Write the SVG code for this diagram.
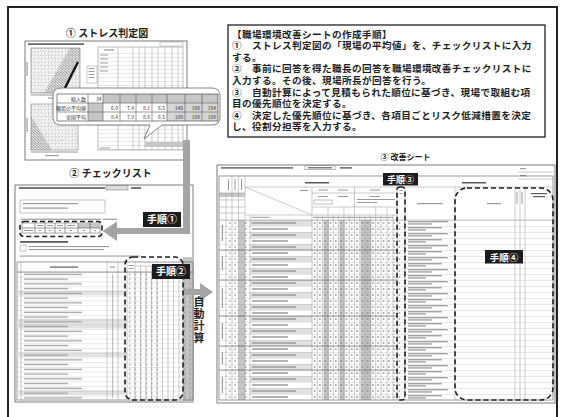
<svg xmlns="http://www.w3.org/2000/svg" width="561" height="417" viewBox="0 0 561 417">
<defs>
<style>
.ttl{font-family:"Noto Sans CJK JP","Noto Sans",sans-serif;font-weight:700;fill:#1e1e1e}
.body{font-family:"Noto Sans CJK JP","Noto Sans",sans-serif;font-weight:700;font-size:9.6px;letter-spacing:0.4px;fill:#1e1e1e}
.tiny{font-family:"Noto Sans CJK JP","Noto Sans",sans-serif;font-size:5px;fill:#333}
.stepT{font-family:"Noto Sans CJK JP","Noto Sans",sans-serif;font-weight:700;fill:#fff}
.sheet{fill:#fff;stroke:#5a5a5a;stroke-width:0.8}
.ln{stroke:#8c8c8c;stroke-width:0.45;fill:none}
.lnd{stroke:#555;stroke-width:0.6;fill:none}
.bar{fill:#9a9a9a}
.dbar{fill:#5a5a5a}
.gc{fill:#c6c6c6}
.lg{fill:#e2e2e2}
.dash{fill:none;stroke:#1e1e1e;stroke-width:1.6;stroke-dasharray:5 3}
.arw{fill:#a4a4a4}
.sbox{fill:#1c1c1c}
</style>
<pattern id="gridS" x="31" y="48" width="3.4" height="3.4" patternUnits="userSpaceOnUse"><path d="M0,0H3.4M0,0V3.4" stroke="#8a8a8a" stroke-width="0.35" fill="none"/></pattern>
<pattern id="diagS" width="2.6" height="10" patternUnits="userSpaceOnUse" patternTransform="rotate(30)"><path d="M0,0V10" stroke="#6a6a6a" stroke-width="0.4"/></pattern>
<pattern id="diagD" width="1.3" height="10" patternUnits="userSpaceOnUse" patternTransform="rotate(30)"><path d="M0,0V10" stroke="#2a2a2a" stroke-width="0.6"/></pattern>
<pattern id="rowS" x="0" y="53" width="200" height="4" patternUnits="userSpaceOnUse"><path d="M0,0H200" stroke="#8c8c8c" stroke-width="0.4"/></pattern>
<pattern id="rowC" x="0" y="272" width="200" height="4.75" patternUnits="userSpaceOnUse"><path d="M0,0H200" stroke="#8c8c8c" stroke-width="0.4"/></pattern>
<pattern id="txtC" x="23" y="272" width="200" height="9.5" patternUnits="userSpaceOnUse"><rect x="1" y="1.7" width="58" height="1.3" fill="#a0a0a0"/><rect x="1" y="6.45" width="44" height="1.3" fill="#a0a0a0"/></pattern>
<pattern id="numC" x="127" y="272" width="5.5" height="4.75" patternUnits="userSpaceOnUse"><rect x="2.2" y="1.5" width="1" height="1.8" fill="#777"/></pattern>
<pattern id="rowK" x="0" y="220" width="400" height="6" patternUnits="userSpaceOnUse"><path d="M0,0H400" stroke="#8c8c8c" stroke-width="0.4"/></pattern>
<pattern id="zebK" x="0" y="220" width="400" height="12" patternUnits="userSpaceOnUse"><rect x="0" y="0" width="400" height="6" fill="#e0e0e0"/></pattern>
<pattern id="txtK" x="251" y="220" width="200" height="12" patternUnits="userSpaceOnUse"><rect x="1" y="2.3" width="44" height="1.4" fill="#949494"/><rect x="1" y="8.3" width="36" height="1.4" fill="#949494"/></pattern>
<pattern id="numK" x="312" y="220" width="5.3" height="6" patternUnits="userSpaceOnUse"><rect x="2.1" y="2" width="1" height="2" fill="#777"/></pattern>
<pattern id="txtR" x="407" y="220" width="200" height="12" patternUnits="userSpaceOnUse"><rect x="1" y="1.2" width="40" height="1.1" fill="#8a8a8a"/><rect x="1" y="3.4" width="24" height="1.1" fill="#8a8a8a"/><rect x="1" y="7.2" width="34" height="1.1" fill="#8a8a8a"/><rect x="1" y="9.4" width="18" height="1.1" fill="#8a8a8a"/></pattern>
</defs>

<rect x="0" y="0" width="561" height="417" fill="#fff"/>
<rect id="frame" x="8" y="7" width="549" height="420" fill="none" stroke="#222" stroke-width="2"/>

<g id="stress-chart">
<text class="ttl" x="107" y="36.5" font-size="10" text-anchor="middle">① ストレス判定図</text>
<rect class="sheet" x="25" y="41" width="162" height="119"/>
<rect class="dbar" x="28" y="43.3" width="56" height="1.6"/>
<rect x="31" y="48" width="49" height="45" fill="url(#diagS)"/>
<polygon points="44,93 70,48 80,48 80,60 62,93" fill="url(#diagD)"/>
<rect x="31" y="48" width="49" height="45" fill="url(#gridS)" stroke="#666" stroke-width="0.5"/>
<line x1="65" y1="88" x2="78" y2="62" stroke="#111" stroke-width="2.4"/>
<rect class="bar" x="31" y="94.5" width="49" height="1"/>
<rect class="bar" x="48" y="97.5" width="14" height="1.2"/>
<rect class="bar" x="26.5" y="62" width="1.2" height="14"/>
<rect x="31" y="104" width="47" height="46" fill="url(#diagS)"/>
<polygon points="31,116 31,150 52,150" fill="url(#diagD)"/>
<rect x="31" y="104" width="47" height="46" fill="url(#gridS)" stroke="#666" stroke-width="0.5"/>
<rect class="bar" x="31" y="151.5" width="47" height="1"/>
<rect class="bar" x="45" y="155" width="14" height="1.2"/>
<rect class="bar" x="26.5" y="118" width="1.2" height="14"/>
<rect x="87" y="66" width="10" height="17" fill="#fff" stroke="#777" stroke-width="0.4"/>
<rect class="bar" x="88.5" y="68" width="6" height="1"/>
<rect class="bar" x="88.5" y="71" width="6" height="1"/>
<rect class="bar" x="88.5" y="74" width="6" height="1"/>
<rect class="bar" x="88.5" y="77" width="6" height="1"/>
<rect x="160" y="42" width="23" height="4" fill="#fff" stroke="#777" stroke-width="0.4"/>
<rect x="98" y="47" width="85" height="103" fill="#fff" stroke="#777" stroke-width="0.5"/>
<rect x="98" y="53" width="85" height="97" fill="url(#rowS)"/>
<rect class="bar" x="104" y="49.3" width="10" height="1.2"/>
<path class="ln" d="M118,47V150M133,47V150M139,47V150M145,47V150M152,47V150M158,47V150M165,47V150M172,47V150M178,47V150"/>
<rect class="bar" x="100" y="54.5" width="8" height="1"/>
<rect class="bar" x="100" y="58.5" width="8" height="1"/>
<rect class="bar" x="100" y="62.5" width="8" height="1"/>
<rect class="bar" x="100" y="66.5" width="8" height="1"/>
<rect class="bar" x="100" y="70.5" width="8" height="1"/>
<rect class="gc" x="145" y="142" width="38" height="5"/>
<rect class="bar" x="100" y="147.5" width="10" height="1"/>
</g>

<g id="bubble">
<path d="M61,88 H212 Q220,88 220,96 V117 Q220,125 212,125 H162 L144,139 L150,125 H61 Q53,125 53,117 V96 Q53,88 61,88 Z" fill="#fff" stroke="#666" stroke-width="0.8"/>
<rect class="gc" x="103" y="94" width="115" height="9"/>
<rect class="gc" x="88" y="103" width="15" height="18"/>
<rect x="167" y="103" width="51" height="18" fill="#d6d6d6"/>
<rect x="57" y="94" width="161" height="27" fill="none" stroke="#333" stroke-width="0.6"/>
<path class="lnd" d="M57,103H218M57,112H218M88,94V121M103,94V121M120,94V121M136,94V121M152,94V121M167,94V121M185,94V121M202,94V121"/>
<g class="tiny" text-anchor="end">
<text x="86" y="100.5">総人数</text>
<text x="86" y="109.5">職場の平均値</text>
<text x="86" y="118.5">全国平均</text>
<text x="101.5" y="100.5">34</text>
<text x="118" y="109.5">6.0</text><text x="134" y="109.5">7.4</text><text x="150" y="109.5">8.1</text><text x="165" y="109.5">6.5</text><text x="183" y="109.5">146</text><text x="200" y="109.5">106</text><text x="216" y="109.5">154</text>
<text x="118" y="118.5">8.4</text><text x="134" y="118.5">7.9</text><text x="150" y="118.5">8.6</text><text x="165" y="118.5">6.5</text><text x="183" y="118.5">100</text><text x="200" y="118.5">100</text><text x="216" y="118.5">100</text>
</g>
</g>

<g id="procedure">
<rect x="228" y="25" width="317" height="112" fill="#fff" stroke="#222" stroke-width="1.3"/>
<text class="body"><tspan x="232" y="37.5">【職場環境改善シートの作成手順】</tspan><tspan x="232" y="49.1">①　ストレス判定図の「現場の平均値」を、チェックリストに入力</tspan><tspan x="232" y="60.7">する。</tspan><tspan x="232" y="72.4">②　事前に回答を得た職長の回答を職場環境改善チェックリストに</tspan><tspan x="232" y="84">入力する。その後、現場所長が回答を行う。</tspan><tspan x="232" y="95.6">③　自動計算によって見積もられた順位に基づき、現場で取組む項</tspan><tspan x="232" y="107.2">目の優先順位を決定する。</tspan><tspan x="232" y="118.8">④　決定した優先順位に基づき、各項目ごとリスク低減措置を決定</tspan><tspan x="232" y="130.4">し、役割分担等を入力する。</tspan></text>
</g>

<g id="checklist">
<text class="ttl" x="110.5" y="177" font-size="10" text-anchor="middle">② チェックリスト</text>
<rect class="sheet" x="15" y="185" width="178" height="217"/>
<rect class="dbar" x="19" y="187.2" width="86" height="1.6"/>
<rect x="106" y="185.8" width="22" height="4.2" fill="#ddd" stroke="#555" stroke-width="0.4"/>
<rect class="dbar" x="131" y="187.2" width="10" height="1.6"/>
<rect x="20" y="200" width="85" height="13" fill="#fff" stroke="#888" stroke-width="0.5"/>
<rect class="bar" x="23" y="203" width="55" height="1.2"/>
<rect class="bar" x="23" y="207.5" width="45" height="1.2"/>
<rect class="bar" x="21" y="218.7" width="80" height="1.2"/>
<rect class="bar" x="103" y="218.7" width="14" height="1.2"/>
<rect x="22" y="223" width="78" height="10" fill="#fff" stroke="#555" stroke-width="0.5"/>
<rect class="gc" x="78" y="223" width="22" height="5"/>
<path class="lnd" d="M22,228H100M35,223V233M45,223V233M55,223V233M65,223V233M78,223V233M90,223V233"/>
<rect class="bar" x="37" y="225" width="6" height="1"/><rect class="bar" x="47" y="225" width="6" height="1"/><rect class="bar" x="57" y="225" width="6" height="1"/><rect class="bar" x="67" y="225" width="8" height="1"/>
<rect class="bar" x="24" y="230" width="9" height="1"/><rect class="bar" x="39" y="230" width="2" height="1"/><rect class="bar" x="49" y="230" width="2" height="1"/><rect class="bar" x="59" y="230" width="2" height="1"/><rect class="bar" x="70" y="230" width="2" height="1"/><rect class="bar" x="83" y="230" width="2" height="1"/><rect class="bar" x="94" y="230" width="2" height="1"/>
<rect class="dbar" x="20" y="241" width="48" height="1.8"/>
<rect x="20" y="245" width="6" height="6" fill="none" stroke="#777" stroke-width="0.4"/>
<rect class="bar" x="29" y="246" width="80" height="1.1"/>
<rect class="bar" x="29" y="249" width="75" height="1.1"/>
<rect class="bar" x="20" y="255.5" width="120" height="1.1"/>
<rect class="gc" x="183" y="257" width="10" height="145"/>
<rect x="17" y="262" width="176" height="138" fill="none" stroke="#555" stroke-width="0.6"/>
<rect class="lg" x="17" y="290.5" width="110" height="4.75"/>
<rect class="lg" x="17" y="319" width="110" height="4.75"/>
<rect class="lg" x="17" y="323.75" width="110" height="4.75"/>
<rect class="lg" x="17" y="352.25" width="110" height="4.75"/>
<rect class="lg" x="17" y="390.25" width="110" height="4.75"/>
<rect x="17" y="272" width="176" height="128" fill="url(#rowC)"/>
<rect x="23" y="272" width="84" height="128" fill="url(#txtC)"/>
<rect x="127" y="272" width="33" height="128" fill="url(#numC)"/>
<rect x="183" y="272" width="10" height="128" fill="url(#numC)"/>
<path class="ln" d="M21,262V400M107,262V400M118,262V400M127,262V400M135,262V400M140.5,266V400M146,266V400M151.5,266V400M157,266V400M162.5,266V400M168,266V400M173.5,266V400M179,266V400M183,262V400M135,266H183"/>
<path class="lnd" d="M17,272H193"/>
<rect class="dbar" x="50" y="266.5" width="28" height="1.2"/>
<rect class="bar" x="110" y="266.5" width="5" height="1.2"/>
<rect class="bar" x="128.5" y="265" width="5" height="1"/><rect class="bar" x="128.5" y="268" width="5" height="1"/>
<rect class="bar" x="112" y="274" width="1.2" height="124" opacity="0.6"/>
</g>

<g id="kaizen-sheet">
<text class="ttl" x="405.5" y="160" font-size="8" text-anchor="middle">③ 改善シート</text>
<rect class="sheet" x="217" y="165" width="338" height="238"/>
<rect class="dbar" x="221" y="167.2" width="72" height="1.4"/>
<rect x="305" y="165.8" width="30" height="4" fill="#fff" stroke="#555" stroke-width="0.4"/>
<rect class="dbar" x="308" y="167.2" width="24" height="1.2"/>
<rect class="dbar" x="340" y="167.2" width="12" height="1.4"/>
<path class="ln" d="M518,172H553M518,179H553"/>
<rect class="bar" x="520" y="168" width="6" height="1.2"/>
<rect class="bar" x="520" y="175" width="6" height="1.2"/>
<rect x="250" y="220" width="62" height="180" fill="url(#zebK)"/>
<rect class="gc" x="238.5" y="220" width="6.5" height="180"/>
<rect class="gc" x="323.6" y="220" width="5.3" height="180"/>
<rect class="gc" x="339.5" y="220" width="5.3" height="180"/>
<rect class="gc" x="360.7" y="220" width="10.6" height="180"/>
<rect class="gc" x="219" y="193" width="26" height="4"/>
<rect x="219" y="220" width="334" height="180" fill="url(#rowK)"/>
<rect x="250" y="220" width="62" height="180" fill="url(#txtK)"/>
<rect x="312" y="220" width="85" height="180" fill="url(#numK)"/>
<rect x="405" y="220" width="50" height="180" fill="url(#txtR)"/>
<rect x="219" y="176" width="334" height="224" fill="none" stroke="#555" stroke-width="0.6"/>
<path class="ln" d="M226,193V400M232,176V400M238.5,176V400M245,176V400M250,215V400M312,187V400M317.3,215V400M322.6,215V400M328,207V400M333.3,215V400M338.6,215V400M343.9,207V400M349.2,215V400M354.5,187V400M359.8,215V400M365.1,215V400M370.4,215V400M375.7,207V400M381,215V400M387,207V400M393,215V400M397,176V400M405,187V400M455,187V400M515,187V400M520,187V400M525,187V400"/>
<path class="ln" d="M219,193H245M219,200H245M219,207H245M219,213H245M245,187H553M312,193H397M312,207H397M245,215H397M219,220H553M245,187L312,215"/>
<path class="lnd" d="M219,250H397M219,280H397M219,316H397M219,346H397M219,370H397"/>
<rect class="dbar" x="305" y="182" width="24" height="1.5"/>
<rect class="dbar" x="462" y="182" width="24" height="1.5"/>
<rect class="bar" x="228" y="179" width="1" height="11"/><rect class="bar" x="234.5" y="179" width="1" height="11"/><rect class="bar" x="241" y="179" width="1" height="11"/>
<rect class="bar" x="318" y="189.5" width="10" height="1"/><rect class="bar" x="338" y="189.5" width="10" height="1"/><rect class="bar" x="370" y="189.5" width="10" height="1"/>
<rect class="bar" x="318" y="196" width="10" height="1"/><rect class="bar" x="338" y="196" width="10" height="1"/><rect class="bar" x="370" y="196" width="10" height="1"/>
<rect x="314" y="200" width="18" height="4" fill="none" stroke="#666" stroke-width="0.4"/>
<rect class="bar" x="357" y="199" width="38" height="1"/><rect class="bar" x="357" y="202" width="20" height="1"/>
<rect class="bar" x="300" y="190" width="8" height="1"/>
<rect class="bar" x="251" y="216.8" width="18" height="1"/>
<rect class="bar" x="313" y="216.8" width="80" height="1"/>
<rect class="bar" x="417" y="203" width="26" height="1.2"/>
<rect class="bar" x="487" y="203" width="14" height="1.2"/>
<rect class="bar" x="516.5" y="192" width="1" height="12"/><rect class="bar" x="521.5" y="192" width="1" height="12"/>
<rect class="dbar" x="531" y="193" width="16" height="1.2"/><rect class="dbar" x="533" y="196" width="12" height="1.2"/>
<rect class="bar" x="399.5" y="190" width="3" height="1"/><rect class="bar" x="399.5" y="193" width="3" height="1"/>
<rect class="bar" x="221.8" y="225" width="1.2" height="16"/>
<rect class="bar" x="221.8" y="256" width="1.2" height="14"/>
<rect class="bar" x="221.8" y="288" width="1.2" height="20"/>
<rect class="bar" x="221.8" y="323" width="1.2" height="16"/>
<rect class="bar" x="221.8" y="352" width="1.2" height="12"/>
<rect class="bar" x="221.8" y="377" width="1.2" height="16"/>
<rect x="226" y="220" width="12.5" height="180" fill="url(#numK)" opacity="0.8"/>
<rect x="245" y="220" width="5" height="180" fill="url(#numK)"/>
<rect x="397" y="220" width="8" height="180" fill="url(#numK)"/>
</g>

<g id="connectors">
<path class="arw" d="M183,140 H190 V234 H117 V241 L102.5,231 L117,221.5 V228 H183 Z"/>
<path class="arw" d="M183,289 H200 V283 L213,292 L200,301 V295 H183 Z"/>
</g>

<g id="step1">
<rect class="sbox" x="143" y="212" width="38" height="15"/>
<text class="stepT" x="162" y="223.2" font-size="10" text-anchor="middle">手順①</text>
</g>
<g id="step2-area">
<rect class="dash" x="125" y="257" width="58" height="143" rx="8"/>
<rect class="dash" x="20" y="221.5" width="82" height="15" rx="4"/>
</g>
<g id="step2">
<rect class="sbox" x="152" y="264" width="38" height="15"/>
<text class="stepT" x="171" y="275.2" font-size="10" text-anchor="middle">手順②</text>
</g>
<g id="auto-calc">
<text class="ttl" font-size="11" x="199" y="296" style="writing-mode:vertical-rl" letter-spacing="1">自動計算</text>
</g>
<g id="step3-area">
<rect class="dash" x="397" y="187" width="8" height="213" rx="3"/>
</g>
<g id="step3">
<rect class="sbox" x="383" y="173" width="35" height="12.5"/>
<text class="stepT" x="400.5" y="182.6" font-size="9" text-anchor="middle">手順③</text>
</g>
<g id="step4-area">
<rect class="dash" x="455" y="188" width="98" height="212" rx="12"/>
</g>
<g id="step4">
<rect class="sbox" x="485" y="250" width="38" height="13.5"/>
<text class="stepT" x="504" y="260.5" font-size="9.5" text-anchor="middle">手順④</text>
</g>
</svg>
